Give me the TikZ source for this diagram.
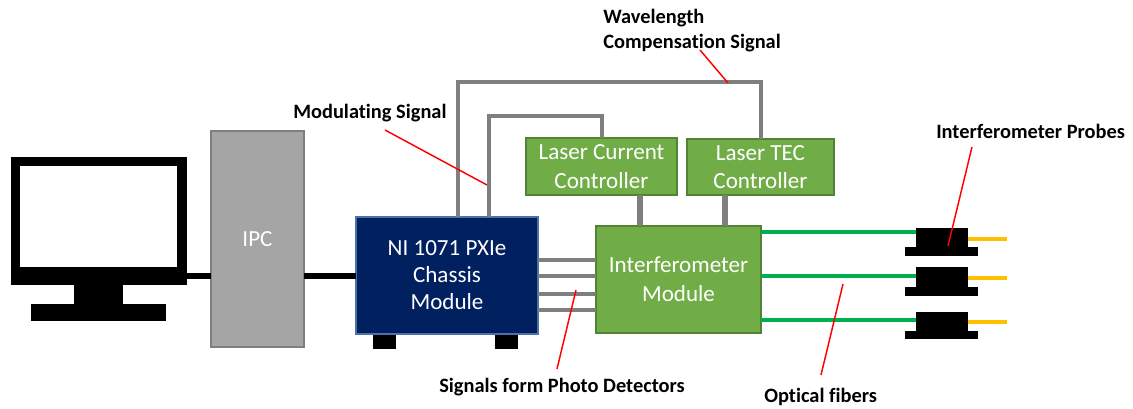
\documentclass[tikz,border=0pt]{standalone}
\usepackage{fontspec}
\setmainfont[Ligatures=NoCommon]{Carlito}
\definecolor{navy}{HTML}{002060}
\definecolor{navyedge}{HTML}{4A72A8}
\definecolor{lgreen}{HTML}{70AD47}
\definecolor{lgreenedge}{HTML}{548235}
\definecolor{wire}{HTML}{7F7F7F}
\definecolor{ipcgray}{HTML}{A5A5A5}
\definecolor{fibergreen}{HTML}{00B050}
\definecolor{tipyellow}{HTML}{FFC000}
\tikzset{
  sz/.style n args={2}{minimum width=#1*0.75pt,minimum height=#2*0.75pt,inner sep=0pt,outer sep=0pt,anchor=center},
  blk/.style={draw=none,fill=black,rectangle},
  gbox/.style={rectangle,draw=lgreenedge,line width=0.9pt,fill=lgreen,text=white,align=center},
  lower/.style={execute at begin node={\vspace*{1.5pt}}},
  sig/.style={draw=wire,line width=3pt},
  sigthick/.style={draw=wire,line width=5.2pt},
  blackwire/.style={draw=black,line width=4.2pt},
  fiber/.style={draw=fibergreen,line width=3pt},
  tip/.style={draw=tipyellow,line width=3pt},
  callout/.style={draw=red,line width=1.1pt},
  lab/.style={font=\fontsize{15.3}{18.8}\selectfont\bfseries,align=left,inner sep=0pt,text=black},
}
\begin{document}
\begin{tikzpicture}[x=0.75pt,y=-0.75pt]
\useasboundingbox (0,0) rectangle (1133,408);
% monitor
\node[blk,sz={176}{127.5}] (monitor) at (99,220.75) {};
\node[rectangle,fill=white,sz={157}{101}] (screen) at (98.5,216.5) {};
\node[blk,sz={49}{21}] (stand) at (98.5,294) {};
\node[blk,sz={135}{17}] (base) at (98.5,312.5) {};
% main boxes
\node[rectangle,draw=wire,line width=0.9pt,fill=ipcgray,text=white,sz={93}{216},font=\fontsize{17.3}{20}\selectfont] (ipc) at (257.5,239) {IPC};
\node[blk,sz={23}{15}] (footl) at (384.5,341.5) {};
\node[blk,sz={23}{15}] (footr) at (506,341.5) {};
\node[rectangle,draw=navyedge,line width=0.9pt,fill=navy,text=white,align=center,lower,sz={182}{117},font=\fontsize{17.3}{20.3}\selectfont] (chassis) at (447,275.5) {NI 1071 PXIe\\Chassis\\Module};
\node[gbox,lower,sz={165}{107},font=\fontsize{17.3}{21.8}\selectfont] (module) at (678.5,279.5) {Interferometer\\Module};
\node[gbox,lower,sz={151}{57},font=\fontsize{17.3}{21.5}\selectfont] (lcc) at (601.5,166.5) {Laser Current\\Controller};
\node[gbox,lower,sz={147}{56},font=\fontsize{17.3}{21.5}\selectfont] (tec) at (760.5,167) {Laser TEC\\Controller};
% probes
\node[blk,sz={52}{19}] (p1) at (942,237.5) {};
\node[blk,sz={73}{9}] (p1b) at (941.5,251.5) {};
\node[blk,sz={52}{20}] (p2) at (942,277) {};
\node[blk,sz={73}{9}] (p2b) at (941.5,291) {};
\node[blk,sz={52}{19}] (p3) at (942,321.5) {};
\node[blk,sz={73}{8}] (p3b) at (941.5,335) {};
% coordinates
\coordinate (o1) at (458,82);
\coordinate (o2) at (761,82);
\coordinate (i1) at (489,116);
\coordinate (i2) at (602,116);
\coordinate (t1) at (1007,239);
\coordinate (t2) at (1007,278);
\coordinate (t3) at (1007,322);
% connectors
\draw[blackwire] (monitor.east |- 0,276) -- (ipc.west |- 0,276);
\draw[blackwire] (ipc.east |- 0,276) -- (chassis.west |- 0,276);
\draw[sig,line join=miter] (chassis.north -| o1) -- (o1) -- (o2) -- (tec.north -| o2);
\draw[sig,line join=miter] (chassis.north -| i1) -- (i1) -- (i2) -- (lcc.north -| i2);
\draw[sigthick] (lcc.south -| 640,0) -- (module.north -| 640,0);
\draw[sigthick] (tec.south -| 725,0) -- (module.north -| 725,0);
\foreach \y in {260,276,294,310}{\draw[sig] (chassis.east |- 0,\y) -- (module.west |- 0,\y);}
\draw[fiber] (module.east |- 0,232) -- (p1.west |- 0,232);
\draw[fiber] (module.east |- 0,275.5) -- (p2.west |- 0,275.5);
\draw[fiber] (module.east |- 0,320) -- (p3.west |- 0,320);
\draw[tip] (p1.east |- t1) -- (t1);
\draw[tip] (p2.east |- t2) -- (t2);
\draw[tip] (p3.east |- t3) -- (t3);
% labels
\node[lab,anchor=north west] (lwave) at (603,9) {Wavelength\\Compensation Signal};
\node[lab,anchor=west] (lmod) at (293,113) {Modulating Signal};
\node[lab,anchor=west] (lprobe) at (936,131) {Interferometer Probes};
\node[lab,anchor=west] (lsig) at (439,387) {Signals form Photo Detectors};
\node[lab,anchor=west] (lfib) at (764,396.5) {Optical fibers};
% callouts
\coordinate (c1a) at (700,50); \coordinate (c1b) at (728,83);
\coordinate (c2a) at (385,130); \coordinate (c2b) at (487,185);
\coordinate (c3a) at (972,147); \coordinate (c3b) at (948,246);
\coordinate (c4a) at (557,369); \coordinate (c4b) at (576,290);
\coordinate (c5a) at (821,375); \coordinate (c5b) at (843,284);
\draw[callout] (c1a) -- (c1b);
\draw[callout] (c2a) -- (c2b);
\draw[callout] (c3a) -- (c3b);
\draw[callout] (c4a) -- (c4b);
\draw[callout] (c5a) -- (c5b);
\end{tikzpicture}
\end{document}
